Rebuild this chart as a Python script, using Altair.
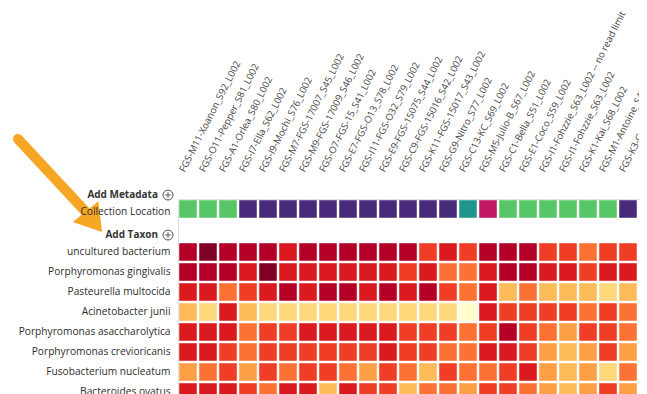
import altair as alt
import pandas as pd

# ---- data ----
samples = [
    "FGS-M11-Xoanon_S92_L002", "FGS-O11-Pepper_S81_L002", "FGS-A1-Orlea_S80_L002",
    "FGS-I7-Ella_S62_L002", "FGS-I9-Mochi_S76_L002", "FGS-M7-FGS-17007_S45_L002",
    "FGS-M9-FGS-17009_S46_L002", "FGS-O7-FGS-15_S41_L002", "FGS-E7-FGS-O13_S78_L002",
    "FGS-I11-FGS-O32_S79_L002", "FGS-E9-FGS-15075_S44_L002", "FGS-C9-FGS-15016_S42_L002",
    "FGS-K11-FGS-15017_S43_L002", "FGS-G9-Nitro_S77_L002", "FGS-C13-KC_S69_L002",
    "FGS-M5-Julio-B_S67_L002", "FGS-C1-Bella_S51_L002", "FGS-E1-Coco_S59_L002",
    "FGS-I1-Fohzzie_S63_L002 -- no read limit", "FGS-I1-Fohzzie_S63_L002",
    "FGS-K1-Kai_S68_L002", "FGS-M1-Antoine_S47_L002", "FGS-K3-G_S70_L002",
    "FGS-K5_S71_L002",
]

locations = [
    "Site A", "Site A", "Site A",
    "Site B", "Site B", "Site B", "Site B", "Site B", "Site B", "Site B",
    "Site B", "Site B", "Site B", "Site B",
    "Site C", "Site D",
    "Site A", "Site A", "Site A", "Site A", "Site A", "Site A",
    "Site B", "Site B",
]
location_names = ["Site A", "Site B", "Site C", "Site D"]
location_colors = ["#56c667", "#472b7a", "#1f968b", "#c11866"]

taxa = [
    "uncultured bacterium",
    "Porphyromonas gingivalis",
    "Pasteurella multocida",
    "Acinetobacter junii",
    "Porphyromonas asaccharolytica",
    "Porphyromonas crevioricanis",
    "Fusobacterium nucleatum",
    "Bacteroides ovatus",
]

# abundance class (0 = lowest ... 8 = highest), one list per taxon
levels = [
    [7, 8, 7, 7, 7, 6, 7, 7, 7, 7, 7, 7, 5, 6, 5, 7, 7, 7, 5, 5, 4, 5, 5, 5],
    [7, 7, 7, 6, 8, 6, 6, 6, 6, 6, 6, 5, 6, 4, 4, 6, 7, 7, 6, 6, 5, 6, 6, 5],
    [6, 6, 4, 5, 6, 7, 6, 7, 7, 6, 7, 6, 7, 5, 4, 6, 2, 4, 2, 2, 2, 1, 2, 4],
    [2, 1, 6, 2, 1, 1, 1, 1, 1, 1, 1, 1, 1, 1, 0, 6, 5, 5, 5, 5, 4, 5, 4, 5],
    [6, 6, 6, 4, 5, 5, 6, 6, 6, 6, 6, 5, 5, 5, 4, 5, 7, 5, 4, 3, 5, 5, 4, 5],
    [6, 6, 5, 4, 5, 5, 5, 5, 5, 5, 6, 5, 5, 4, 4, 6, 6, 5, 3, 2, 3, 5, 3, 4],
    [3, 4, 5, 3, 5, 4, 5, 5, 4, 3, 5, 4, 2, 5, 4, 4, 5, 6, 3, 2, 3, 1, 4, 4],
    [6, 6, 6, 5, 4, 6, 6, 2, 6, 5, 5, 2, 4, 4, 3, 5, 5, 4, 3, 2, 3, 5, 3, 1],
]
level_domain = [0, 1, 2, 3, 4, 5, 6, 7, 8]
level_colors = ["#ffffcc", "#fed97c", "#febb59", "#fd9f44", "#fc7234",
                "#f03d25", "#db1a1f", "#b40026", "#800026"]

meta_row = "Collection Location"
taxon_header = "Add Taxon"
y_domain = [meta_row, taxon_header] + taxa

# ---- tables ----
meta_df = pd.DataFrame({"sample": samples, "row": meta_row, "location": locations})
heat_df = pd.DataFrame(
    [{"sample": s, "row": t, "level": lv}
     for t, vals in zip(taxa, levels) for s, lv in zip(samples, vals)]
)

FONT = "Open Sans"

x_enc = alt.X(
    "sample:N",
    sort=samples,
    scale=alt.Scale(domain=samples, range=[0, 480], paddingInner=0.1, paddingOuter=0.05),
    axis=alt.Axis(
        orient="top", title=None, ticks=False, domain=False,
        labelAngle=-63, labelAlign="left", labelBaseline="middle",
        labelOffset=-6, labelPadding=28, labelFont=FONT, labelFontSize=9.6,
        labelColor="#444444", labelLimit=400, labelOverlap=False, labelBound=False,
    ),
)
y_enc = alt.Y(
    "row:N",
    sort=y_domain,
    scale=alt.Scale(domain=y_domain, paddingInner=0.1, paddingOuter=0.05),
    axis=alt.Axis(
        title=None, ticks=False, domain=False, labelPadding=8, labelOffset=3,
        labelFont=FONT, labelFontSize=10.2, labelColor="#2d2d2d", labelLimit=300,
        labelExpr="datum.value == 'Add Taxon' ? '' : datum.value",
    ),
)

meta = alt.Chart(meta_df).mark_rect(stroke="white", strokeWidth=1, strokeOpacity=0.45).encode(
    x=x_enc,
    y=y_enc,
    color=alt.Color("location:N", scale=alt.Scale(domain=location_names, range=location_colors), legend=None),
)

heat = alt.Chart(heat_df).mark_rect(yOffset=3, stroke="white", strokeWidth=1, strokeOpacity=0.45).encode(
    x=alt.X("sample:N", sort=samples),
    y=alt.Y("row:N", sort=y_domain),
    fill=alt.Fill("level:O", scale=alt.Scale(domain=level_domain, range=level_colors), legend=None),
)

one = pd.DataFrame({"k": [0]})
hdr_style = dict(font=FONT, fontSize=10, fontWeight="bold", color="#333333",
                 align="right", baseline="middle")

meta_hdr = alt.Chart(one).mark_text(**hdr_style, text="Add Metadata").encode(
    x=alt.value(-20), y=alt.value(-4))
taxon_hdr = alt.Chart(one).mark_text(**hdr_style, text="Add Taxon").encode(
    x=alt.value(-20), y=alt.value(36))

icon_circle = alt.Chart(pd.DataFrame({"yy": [-4, 36]})).mark_point(
    shape="circle", size=100, filled=False, stroke="#555555", strokeWidth=1, opacity=1
).encode(x=alt.value(-10), y=alt.Y("yy:Q", scale=None))
icon_plus = alt.Chart(pd.DataFrame({"yy": [-4, 36]})).mark_point(
    shape="M-1,0L1,0M0,-1L0,1", size=30, filled=False, stroke="#555555", strokeWidth=1, opacity=1
).encode(x=alt.value(-10), y=alt.Y("yy:Q", scale=None))

arrow_shaft = alt.Chart(one).mark_rule(color="#f5a623", strokeWidth=10, strokeCap="round").encode(
    x=alt.value(-160), y=alt.value(-60), x2=alt.value(-93), y2=alt.value(12))
arrow_head = alt.Chart(one).mark_point(
    shape="M0,-1L1,0.576L-1,0.576Z", size=1089, angle=141, filled=True,
    color="#f5a623", opacity=1, strokeWidth=0
).encode(x=alt.value(-86.4), y=alt.value(20.1))

chart = alt.layer(
    meta, heat, meta_hdr, taxon_hdr, icon_circle, icon_plus, arrow_shaft, arrow_head
).resolve_scale(
    color="independent", fill="independent"
).properties(
    width=461, height=200,
    autosize=alt.AutoSizeParams(type="none"),
    padding={"left": 170, "top": 191, "right": 0, "bottom": 0},
).configure_view(strokeWidth=0).configure(background="white")

chart.save("out.html", embed_options={"renderer": "svg", "actions": False})
